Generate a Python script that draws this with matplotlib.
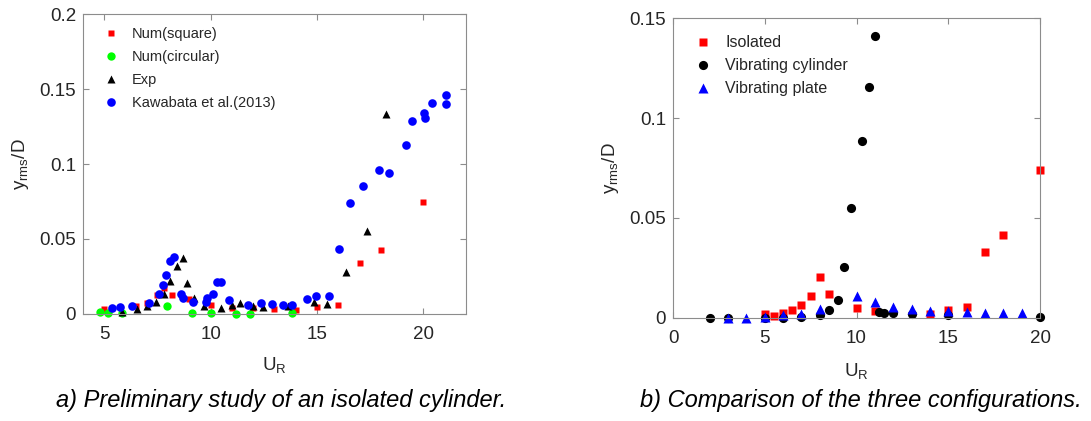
import numpy as np
import matplotlib
matplotlib.use('Agg')
import matplotlib.pyplot as plt

plt.rcParams['font.family'] = ['Liberation Sans', 'DejaVu Sans']
plt.rcParams['mathtext.default'] = 'regular'

# ---- panel a) isolated cylinder ----
sq_x = [5, 6.5, 7, 7.5, 7.8, 8.2, 9, 10, 11, 12, 13, 14, 15, 16, 17, 18, 20]
sq_y = [0.003, 0.005, 0.0075, 0.0127, 0.017, 0.0127, 0.010, 0.006, 0.0042,
        0.0042, 0.0033, 0.0029, 0.0045, 0.0058, 0.0338, 0.0424, 0.0744]

circ_x = [4.82, 5.17, 5.85, 7.95, 9.1, 10.03, 11.17, 11.83, 13.84]
circ_y = [0.0012, 0.0007, 0.0004, 0.0054, 0.0005, 0.0004, 0.0003, 0.0003, 0.0004]

exp_x = [5.85, 6.55, 7.0, 7.45, 7.82, 8.07, 8.4, 8.68, 8.9, 9.2, 9.7, 10.5,
         11.0, 11.4, 12.0, 12.47, 13.65, 14.87, 15.47, 16.35, 17.37, 18.22]
exp_y = [0.0015, 0.003, 0.005, 0.0082, 0.013, 0.022, 0.032, 0.037, 0.0204,
         0.0105, 0.0055, 0.0042, 0.006, 0.0071, 0.0055, 0.0045, 0.0053,
         0.0078, 0.0065, 0.0282, 0.055, 0.1333]

kaw_x = [5.37, 5.75, 6.3, 7.1, 7.57, 7.77, 7.92, 8.08, 8.27, 8.6, 8.68, 9.17,
         9.78, 9.85, 10.12, 10.32, 10.5, 10.86, 11.77, 12.36, 12.89, 13.42,
         13.82, 14.52, 14.93, 15.58, 16.01, 16.57, 17.15, 17.91, 18.36, 19.17,
         19.45, 20.01, 20.06, 20.4, 21.04, 21.04]
kaw_y = [0.004, 0.0045, 0.005, 0.007, 0.013, 0.019, 0.026, 0.035, 0.038,
         0.013, 0.0105, 0.008, 0.008, 0.0105, 0.013, 0.0216, 0.0216, 0.0093,
         0.0062, 0.007, 0.0065, 0.0062, 0.0062, 0.010, 0.0122, 0.0122, 0.043,
         0.074, 0.0855, 0.096, 0.094, 0.113, 0.1287, 0.134, 0.131, 0.141,
         0.146, 0.140]

# ---- panel b) three configurations ----
iso_x = [5, 5.5, 6, 6.5, 7, 7.5, 8, 8.5, 10, 11, 14, 15, 16, 17, 18, 20]
iso_y = [0.0018, 0.0012, 0.0023, 0.004, 0.0065, 0.0112, 0.0207, 0.012,
         0.0052, 0.0036, 0.002, 0.0038, 0.0055, 0.0332, 0.0415, 0.0742]

cyl_x = [2, 3, 5, 6, 7, 8, 8.5, 9, 9.3, 9.7, 10.3, 10.7, 11, 11.25, 11.5,
         12, 13, 15, 20]
cyl_y = [0, 0, 0, 0, 0.0003, 0.0015, 0.0038, 0.0092, 0.0254, 0.0552, 0.0887,
         0.1153, 0.141, 0.003, 0.0027, 0.0023, 0.0021, 0.0013, 0.0007]

plate_x = [3, 4, 5, 6, 7, 8, 10, 11, 12, 13, 14, 15, 16, 17, 18, 19]
plate_y = [0.0002, 0.0002, 0.0007, 0.0013, 0.0018, 0.0046, 0.011, 0.0078,
           0.0057, 0.0047, 0.0037, 0.0035, 0.0032, 0.0027, 0.0027, 0.0027]

grey = '#8c8c8c'
txt = '#262626'


def style(ax):
    for s in ax.spines.values():
        s.set_color(grey)
    ax.tick_params(direction='in', top=True, right=True, color=grey,
                   labelcolor=txt, labelsize=13.5, length=4)
    ax.tick_params(axis='x', pad=9)
    ax.tick_params(axis='y', pad=5)


fig = plt.figure(figsize=(10.91, 4.21), dpi=100)

ax1 = fig.add_axes([0.0761, 0.2542, 0.3510, 0.7125])
ax1.plot(sq_x, sq_y, 's', color='#ff0000', ms=4.8, mec='none', clip_on=False,
         label='Num(square)')
ax1.plot(circ_x, circ_y, 'o', color='#00ff00', ms=6, mec='none', clip_on=False,
         label='Num(circular)')
ax1.plot(exp_x, exp_y, '^', color='black', ms=6, mec='none', clip_on=False,
         label='Exp')
ax1.plot(kaw_x, kaw_y, 'o', color='#0000ff', ms=6.2, mec='none', clip_on=False,
         label='Kawabata et al.(2013)')
ax1.set_xlim(4, 22)
ax1.set_ylim(0, 0.2)
ax1.set_xticks([5, 10, 15, 20])
ax1.set_yticks([0, 0.05, 0.1, 0.15, 0.2])
ax1.set_yticklabels(['0', '0.05', '0.1', '0.15', '0.2'])
style(ax1)
ax1.set_xlabel('$U_R$', fontsize=13.5, color=txt, labelpad=8)
ax1.set_ylabel('$y_{rms}/D$', fontsize=13.5, color=txt, labelpad=6)
ax1.legend(loc='upper left', bbox_to_anchor=(0.02, 1.0), frameon=False,
           fontsize=10.5, handlelength=1.0, handletextpad=0.9,
           labelspacing=0.62, labelcolor=txt)

ax2 = fig.add_axes([0.6169, 0.2447, 0.3364, 0.7125])
ax2.plot(iso_x, iso_y, 's', color='#ff0000', ms=5.2, mec='none', clip_on=False,
         label='Isolated')
ax2.plot(cyl_x, cyl_y, 'o', color='black', ms=6.6, mec='none', clip_on=False,
         label='Vibrating cylinder')
ax2.plot(plate_x, plate_y, '^', color='#0000ff', ms=6.6, mec='none', clip_on=False,
         label='Vibrating plate')
ax2.set_xlim(0, 20)
ax2.set_ylim(0, 0.15)
ax2.set_xticks([0, 5, 10, 15, 20])
ax2.set_yticks([0, 0.05, 0.1, 0.15])
ax2.set_yticklabels(['0', '0.05', '0.1', '0.15'])
style(ax2)
ax2.set_xlabel('$U_R$', fontsize=13.5, color=txt, labelpad=10)
ax2.set_ylabel('$y_{rms}/D$', fontsize=13.5, color=txt, labelpad=6)
ax2.legend(loc='upper left', bbox_to_anchor=(0.02, 0.99), frameon=False,
           fontsize=11.5, handlelength=1.0, handletextpad=0.9,
           labelspacing=0.5, labelcolor=txt)

fig.text(0.258, 0.048, 'a) Preliminary study of an isolated cylinder.',
         ha='center', va='center', fontsize=17, style='italic', color='black')
fig.text(0.789, 0.048, 'b) Comparison of the three configurations.',
         ha='center', va='center', fontsize=17, style='italic', color='black')

fig.savefig('out.png', dpi=100)
